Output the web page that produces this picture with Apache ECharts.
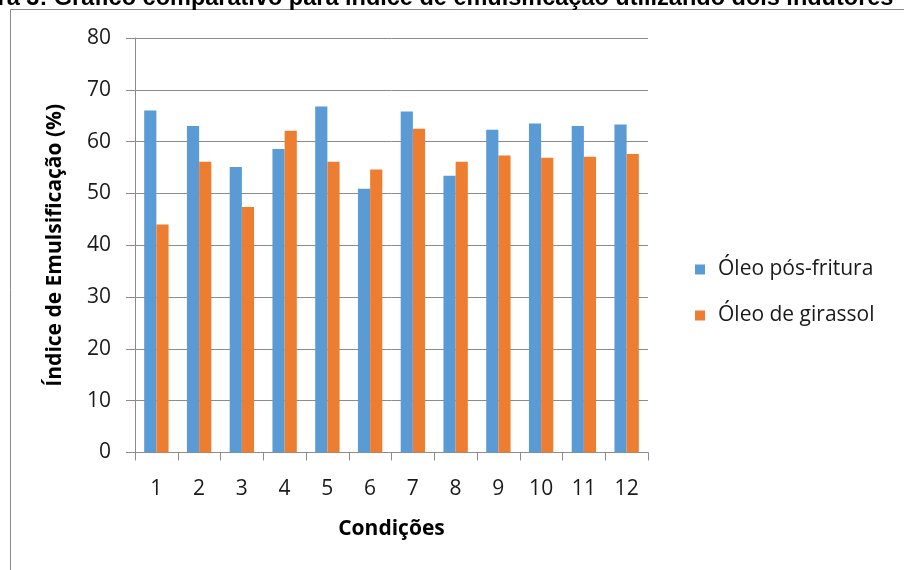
<!DOCTYPE html>
<html>
<head>
<meta charset="utf-8">
<script src="https://cdn.jsdelivr.net/npm/echarts@6/dist/echarts.min.js"></script>
<style>
  html, body { margin: 0; padding: 0; background: #ffffff; }
  #chart { width: 904px; height: 570px; }
</style>
</head>
<body>
<div id="chart"></div>
<script>
// Emulsification index per test condition, two oils
const condicoes = ['1', '2', '3', '4', '5', '6', '7', '8', '9', '10', '11', '12'];
const oleoPosFritura = [66.0, 63.0, 55.1, 58.6, 66.8, 50.9, 65.8, 53.4, 62.3, 63.5, 63.0, 63.3];
const oleoGirassol = [44.0, 56.1, 47.4, 62.1, 56.1, 54.6, 62.5, 56.1, 57.3, 56.9, 57.1, 57.6];
const serieNomes = ['Óleo pós-fritura', 'Óleo de girassol'];
const legenda = 'Figura 3: Gráfico comparativo para índice de emulsificação utilizando dois indutores';

const FONT = '"Open Sans", "DejaVu Sans", sans-serif';
const GRID_COLOR = '#8c8c8c';
const chart = echarts.init(document.getElementById('chart'), null, { renderer: 'canvas' });

chart.setOption({
  animation: false,
  backgroundColor: '#ffffff',
  color: ['#5b9bd5', '#ed7d31'],
  grid: { left: 135, right: 256, top: 38, bottom: 117.5, containLabel: false },
  legend: {
    orient: 'vertical',
    left: 690,
    top: 254,
    itemWidth: 10,
    itemHeight: 10,
    itemGap: 25,
    icon: 'rect',
    textStyle: { fontFamily: FONT, fontSize: 21, color: '#1a1a1a', padding: [0, 0, 0, 8] },
    data: serieNomes
  },
  xAxis: {
    type: 'category',
    data: condicoes,
    name: 'Condições',
    nameLocation: 'middle',
    nameGap: 66,
    nameTextStyle: { fontFamily: FONT, fontSize: 21, fontWeight: 'bold', color: '#000000' },
    axisLine: { lineStyle: { color: GRID_COLOR, width: 1 } },
    axisTick: { show: true, length: 8, lineStyle: { color: GRID_COLOR } },
    axisLabel: { fontFamily: FONT, fontSize: 21, color: '#1a1a1a', margin: 26 }
  },
  yAxis: {
    type: 'value',
    min: 0,
    max: 80,
    interval: 10,
    name: 'Índice de Emulsificação (%)',
    nameLocation: 'middle',
    nameGap: 69,
    nameRotate: 90,
    nameTextStyle: { fontFamily: FONT, fontSize: 21, fontWeight: 'bold', color: '#000000' },
    axisLine: { show: true, lineStyle: { color: GRID_COLOR, width: 1 } },
    axisTick: { show: true, length: 9, lineStyle: { color: GRID_COLOR } },
    axisLabel: { fontFamily: FONT, fontSize: 21, color: '#1a1a1a', margin: 24 },
    splitLine: { show: true, lineStyle: { color: GRID_COLOR, width: 1 } }
  },
  series: [
    {
      name: serieNomes[0],
      type: 'bar',
      data: oleoPosFritura,
      barGap: '0%',
      barCategoryGap: '43%'
    },
    {
      name: serieNomes[1],
      type: 'bar',
      data: oleoGirassol,
      barGap: '0%',
      barCategoryGap: '43%'
    }
  ],
  graphic: [
    // chart area frame (top and left edges visible)
    {
      type: 'polyline',
      shape: { points: [[10.5, 570], [10.5, 9.5], [904, 9.5]] },
      style: { stroke: '#8a8a8a', lineWidth: 1, fill: null },
      silent: true
    },
    // figure caption, clipped by the top edge
    {
      type: 'text',
      left: -52,
      top: -13,
      style: {
        text: legenda,
        font: 'bold 23.5px "Liberation Sans", Arial, sans-serif',
        fill: '#000000'
      },
      silent: true
    }
  ]
});
</script>
</body>
</html>
